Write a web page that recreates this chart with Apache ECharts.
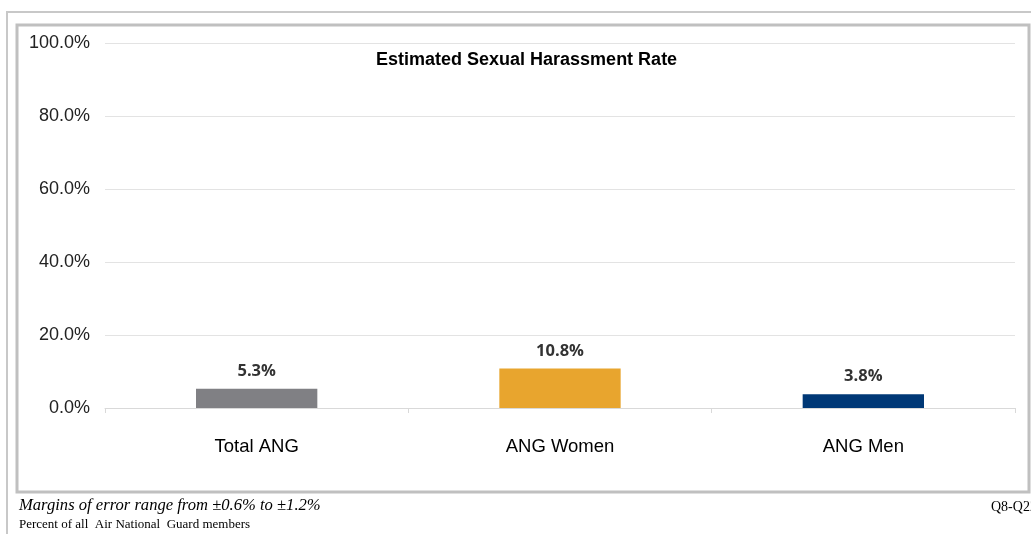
<!DOCTYPE html>
<html>
<head>
<meta charset="utf-8">
<script src="https://cdn.jsdelivr.net/npm/echarts@6/dist/echarts.min.js"></script>
<style>
html,body{margin:0;padding:0;background:#fff;}
#chart{width:1031px;height:534px;}
</style>
</head>
<body>
<div id="chart"></div>
<script>
const categories = ['Total ANG', 'ANG Women', 'ANG Men'];
const values = [5.3, 10.8, 3.8];
const barColors = ['#808084', '#E8A52E', '#003876'];
const titleText = 'Estimated Sexual Harassment Rate';
const footnote1 = 'Margins of error range from \u00b10.6% to \u00b11.2%';
const footnote2 = 'Percent of all  Air National  Guard members';
const footnoteRight = 'Q8-Q22';

const chart = echarts.init(document.getElementById('chart'), null, {renderer: 'canvas'});
chart.setOption({
  animation: false,
  backgroundColor: '#fff',
  title: {
    text: titleText,
    left: 371, top: 46,
    textStyle: {fontFamily: 'Liberation Sans, Arial', fontWeight: 'bold', fontSize: 18, color: '#000'}
  },
  grid: {left: 105, right: 16, top: 43, bottom: 126, containLabel: false},
  xAxis: {
    type: 'category',
    data: categories,
    axisLine: {show: true, lineStyle: {color: '#d9d9d9', width: 1}},
    axisTick: {show: true, length: 5, lineStyle: {color: '#d9d9d9'}},
    axisLabel: {margin: 29, fontFamily: 'Liberation Sans, Arial', fontSize: 18.5, color: '#000'}
  },
  yAxis: {
    type: 'value',
    min: 0, max: 100, interval: 20,
    axisLine: {show: false},
    axisTick: {show: false},
    splitLine: {lineStyle: {color: '#e3e3e3', width: 1}},
    axisLabel: {
      margin: 15,
      fontFamily: 'Liberation Sans, Arial', fontSize: 18, color: '#222',
      formatter: v => v.toFixed(1) + '%'
    }
  },
  series: [{
    type: 'bar',
    barWidth: '40%',
    data: values.map((v, i) => ({value: v, itemStyle: {color: barColors[i]}})),
    label: {
      show: true, position: 'top', distance: 9,
      fontFamily: 'Open Sans, Lato, sans-serif', fontWeight: 'bold', fontSize: 16.5, color: '#333',
      formatter: p => p.value.toFixed(1) + '%'
    }
  }],
  graphic: [
    {type: 'rect', silent: true, z: -1, shape: {x: 7, y: 12, width: 1040, height: 540},
     style: {fill: null, stroke: '#c8c8c8', lineWidth: 2}},
    {type: 'rect', silent: true, z: -1, shape: {x: 17, y: 25, width: 1012, height: 467},
     style: {fill: null, stroke: '#c0c0c0', lineWidth: 3}},
    {type: 'text', left: 19, top: 497,
     style: {text: footnote1, font: 'italic 16.6px "Liberation Serif", "Times New Roman", serif', fill: '#000'}},
    {type: 'text', left: 19, top: 518,
     style: {text: footnote2, font: '13px "Liberation Serif", "Times New Roman", serif', fill: '#000'}},
    {type: 'text', left: 991, top: 500,
     style: {text: footnoteRight, font: '14px "Liberation Serif", "Times New Roman", serif', fill: '#000'}}
  ]
});
</script>
</body>
</html>
